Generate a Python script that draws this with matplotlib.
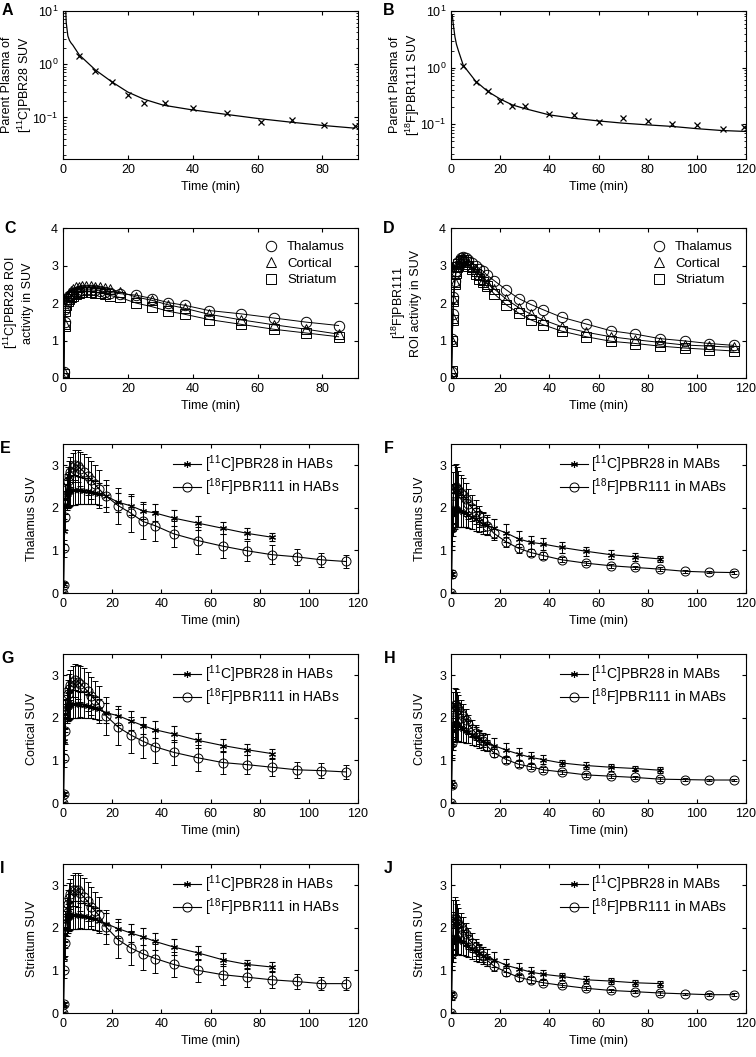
import numpy as np
import matplotlib
matplotlib.use('Agg')
from matplotlib import pyplot as plt
from matplotlib.lines import Line2D

plt.rcParams['font.family'] = ['Liberation Sans', 'DejaVu Sans']
plt.rcParams['font.size'] = 9
plt.rcParams['mathtext.fontset'] = 'custom'
plt.rcParams['mathtext.rm'] = 'Liberation Sans'
plt.rcParams['mathtext.it'] = 'Liberation Sans:italic'
plt.rcParams['mathtext.bf'] = 'Liberation Sans:bold'

# ---- A / B : parent plasma input ----
a_t = [5, 10, 15, 20, 25, 31.5, 40, 50.5, 61, 70.5, 80.5, 90]
a_y = [1.43, 0.75, 0.46, 0.27, 0.19, 0.19, 0.15, 0.12, 0.082, 0.088, 0.073, 0.069]
a_fit_t = [0.5, 0.8, 1.0, 1.5, 2.0, 2.5, 3, 5, 10, 15, 20, 25, 31, 39.5, 50.5, 60.5, 70, 80, 90]
a_fit_y = [25, 12, 6.0, 3.4, 2.8, 2.5, 2.3, 1.5, 0.78, 0.47, 0.30, 0.22, 0.17, 0.14, 0.114, 0.095, 0.082, 0.071, 0.063]

b_t = [5, 10, 15, 20, 25, 30, 40, 50, 60, 70, 80, 90, 100, 110.5, 119]
b_y = [1.08, 0.57, 0.39, 0.26, 0.21, 0.21, 0.153, 0.147, 0.112, 0.128, 0.116, 0.102, 0.098, 0.082, 0.089]
b_fit_t = [0.3, 0.5, 1.0, 1.6, 2.2, 3, 5, 10, 15, 20, 25, 30, 40, 50, 60, 70, 80, 90, 100, 110, 120]
b_fit_y = [8.0, 8.5, 5.5, 3.5, 2.6, 2.0, 1.1, 0.58, 0.38, 0.28, 0.22, 0.19, 0.147, 0.128, 0.115, 0.105, 0.098, 0.092, 0.084, 0.078, 0.075]

# ---- frame mid times ----
t28 = [0, 0.25, 0.5, 0.75, 1, 1.5, 2, 2.5, 3, 4, 5, 6, 7, 8.5, 10, 11.5, 13, 14.5,
       17.5, 22.5, 27.5, 32.5, 37.5, 45, 55, 65, 75, 85]
t111 = t28 + [95, 105, 115]

# ---- C : [11C]PBR28 ROI ----
c_thal = [0.0, 0.15, 1.5, 1.85, 2.0, 2.1, 2.18, 2.22, 2.25, 2.3, 2.32, 2.34, 2.35, 2.35, 2.34, 2.32, 2.3, 2.28,
          2.25, 2.21, 2.12, 2.01, 1.94, 1.80, 1.71, 1.60, 1.49, 1.40]
c_cort = [0.0, 0.15, 1.45, 1.9, 2.05, 2.18, 2.27, 2.33, 2.37, 2.42, 2.44, 2.45, 2.45, 2.45, 2.44, 2.42, 2.4, 2.37,
          2.3, 2.16, 2.07, 1.95, 1.86, 1.70, 1.55, 1.42, 1.30, 1.17]
c_stri = [0.0, 0.12, 1.4, 1.8, 1.95, 2.05, 2.12, 2.17, 2.2, 2.25, 2.28, 2.3, 2.3, 2.3, 2.28, 2.26, 2.24, 2.2,
          2.15, 2.0, 1.9, 1.78, 1.70, 1.56, 1.43, 1.30, 1.20, 1.10]

# ---- D : [18F]PBR111 ROI ----
d_thal = [0.0, 0.15, 1.05, 1.7, 2.15, 2.6, 2.85, 3.0, 3.1, 3.2, 3.22, 3.2, 3.15, 3.08, 3.0, 2.92, 2.85, 2.75,
          2.6, 2.35, 2.12, 1.96, 1.82, 1.62, 1.44, 1.26, 1.17, 1.05, 0.99, 0.92, 0.87]
d_cort = [0.0, 0.18, 1.0, 1.6, 2.1, 2.55, 2.85, 3.0, 3.1, 3.18, 3.2, 3.15, 3.05, 2.95, 2.85, 2.75, 2.62, 2.52,
          2.38, 2.1, 1.88, 1.70, 1.55, 1.37, 1.22, 1.10, 1.02, 0.95, 0.88, 0.85, 0.82]
d_stri = [0.0, 0.2, 1.0, 1.55, 2.05, 2.5, 2.8, 2.95, 3.05, 3.12, 3.15, 3.1, 3.0, 2.9, 2.78, 2.65, 2.55, 2.45,
          2.25, 1.95, 1.73, 1.55, 1.42, 1.25, 1.10, 0.98, 0.92, 0.85, 0.80, 0.76, 0.72]

# ---- E : thalamus HABs ----
e_28 = [0.0, 0.2, 1.45, 2.05, 2.2, 2.3, 2.35, 2.38, 2.4, 2.42, 2.42, 2.42, 2.41, 2.4, 2.39, 2.37, 2.35, 2.33,
        2.28, 2.13, 2.05, 1.93, 1.88, 1.76, 1.64, 1.52, 1.40, 1.31]
e_28_sd = [0, 0.05, 0.3, 0.35, 0.35, 0.35, 0.35, 0.35, 0.35, 0.35, 0.35, 0.33, 0.32, 0.3, 0.3, 0.28, 0.27, 0.26,
           0.25, 0.22, 0.22, 0.2, 0.2, 0.18, 0.16, 0.14, 0.13, 0.1]
e_111 = [0.0, 0.18, 1.05, 1.78, 2.2, 2.45, 2.62, 2.75, 2.85, 2.95, 3.0, 2.98, 2.92, 2.85, 2.75, 2.65, 2.55, 2.45,
         2.28, 2.05, 1.88, 1.68, 1.58, 1.39, 1.23, 1.10, 0.99, 0.90, 0.85, 0.78, 0.74]
e_111_sd = [0, 0.05, 0.2, 0.3, 0.35, 0.35, 0.35, 0.35, 0.35, 0.35, 0.35, 0.37, 0.4, 0.42, 0.45, 0.45, 0.45, 0.45,
            0.37, 0.42, 0.45, 0.4, 0.35, 0.3, 0.32, 0.28, 0.23, 0.22, 0.19, 0.17, 0.16]

# ---- F : thalamus MABs ----
f_28 = [0, 0.45, 1.5, 1.85, 1.95, 2.0, 2.0, 1.98, 1.95, 1.92, 1.9, 1.87, 1.83, 1.78, 1.73, 1.68, 1.63, 1.6,
        1.52, 1.41, 1.27, 1.19, 1.15, 1.07, 0.98, 0.9, 0.85, 0.8]
f_28_sd = [0, 0.1, 0.4, 0.5, 0.5, 0.5, 0.45, 0.42, 0.4, 0.38, 0.35, 0.33, 0.3, 0.28, 0.27, 0.25, 0.24, 0.23,
           0.22, 0.22, 0.18, 0.15, 0.14, 0.12, 0.1, 0.1, 0.1, 0.07]
f_111 = [0, 0.45, 1.52, 2.1, 2.35, 2.45, 2.48, 2.45, 2.42, 2.35, 2.3, 2.2, 2.1, 2.0, 1.9, 1.8, 1.68, 1.58,
         1.4, 1.2, 1.05, 0.95, 0.88, 0.78, 0.7, 0.64, 0.6, 0.56, 0.51, 0.49, 0.48]
f_111_sd = [0, 0.05, 0.3, 0.45, 0.5, 0.55, 0.55, 0.5, 0.45, 0.42, 0.4, 0.38, 0.35, 0.3, 0.28, 0.25, 0.22, 0.2,
            0.15, 0.12, 0.1, 0.09, 0.08, 0.06, 0.05, 0.05, 0.04, 0.04, 0.03, 0.03, 0.03]

# ---- G : cortical HABs ----
g_28 = [0, 0.22, 1.45, 2.0, 2.1, 2.2, 2.25, 2.28, 2.3, 2.32, 2.32, 2.32, 2.31, 2.3, 2.28, 2.26, 2.24, 2.2,
        2.12, 2.05, 1.93, 1.82, 1.72, 1.62, 1.47, 1.35, 1.25, 1.16]
g_28_sd = [0, 0.05, 0.3, 0.33, 0.33, 0.33, 0.33, 0.33, 0.33, 0.33, 0.33, 0.32, 0.3, 0.3, 0.28, 0.27, 0.26, 0.25,
           0.24, 0.22, 0.22, 0.21, 0.2, 0.18, 0.17, 0.15, 0.13, 0.11]
g_111 = [0, 0.22, 1.05, 1.68, 2.1, 2.35, 2.55, 2.68, 2.78, 2.85, 2.88, 2.85, 2.8, 2.72, 2.62, 2.52, 2.42, 2.32,
         2.05, 1.78, 1.6, 1.45, 1.32, 1.19, 1.06, 0.95, 0.9, 0.84, 0.78, 0.76, 0.73]
g_111_sd = [0, 0.05, 0.2, 0.3, 0.35, 0.35, 0.35, 0.35, 0.35, 0.36, 0.38, 0.4, 0.42, 0.45, 0.45, 0.45, 0.45, 0.43,
            0.45, 0.42, 0.42, 0.4, 0.38, 0.3, 0.3, 0.28, 0.23, 0.2, 0.19, 0.17, 0.17]

# ---- H : cortical MABs ----
h_28 = [0, 0.45, 1.4, 1.7, 1.8, 1.85, 1.85, 1.83, 1.8, 1.77, 1.74, 1.7, 1.66, 1.6, 1.56, 1.5, 1.45, 1.42,
        1.35, 1.24, 1.15, 1.07, 1.02, 0.94, 0.88, 0.84, 0.81, 0.77]
h_28_sd = [0, 0.1, 0.35, 0.45, 0.45, 0.42, 0.4, 0.38, 0.35, 0.33, 0.3, 0.28, 0.26, 0.24, 0.22, 0.2, 0.2, 0.2,
           0.18, 0.16, 0.14, 0.12, 0.1, 0.08, 0.08, 0.08, 0.07, 0.07]
h_111 = [0, 0.42, 1.42, 1.95, 2.2, 2.3, 2.3, 2.25, 2.2, 2.12, 2.05, 1.95, 1.85, 1.75, 1.65, 1.55, 1.45, 1.35,
         1.18, 1.02, 0.91, 0.85, 0.78, 0.73, 0.66, 0.63, 0.6, 0.56, 0.55, 0.54, 0.54]
h_111_sd = [0, 0.05, 0.3, 0.4, 0.4, 0.4, 0.38, 0.35, 0.33, 0.3, 0.28, 0.25, 0.22, 0.2, 0.18, 0.16, 0.14, 0.12,
            0.1, 0.08, 0.07, 0.06, 0.06, 0.05, 0.05, 0.04, 0.04, 0.04, 0.03, 0.03, 0.03]

# ---- I : striatum HABs ----
i_28 = [0, 0.2, 1.3, 1.85, 2.0, 2.15, 2.22, 2.26, 2.28, 2.3, 2.3, 2.3, 2.29, 2.28, 2.26, 2.24, 2.2, 2.17,
        2.1, 1.98, 1.88, 1.79, 1.68, 1.55, 1.41, 1.25, 1.14, 1.08]
i_28_sd = [0, 0.05, 0.3, 0.33, 0.33, 0.33, 0.33, 0.33, 0.33, 0.33, 0.33, 0.32, 0.3, 0.3, 0.28, 0.27, 0.26, 0.25,
           0.24, 0.22, 0.22, 0.2, 0.2, 0.18, 0.16, 0.15, 0.1, 0.12]
i_111 = [0, 0.22, 1.02, 1.65, 2.05, 2.35, 2.55, 2.7, 2.8, 2.88, 2.9, 2.88, 2.82, 2.72, 2.62, 2.5, 2.4, 2.3,
         2.02, 1.72, 1.53, 1.39, 1.28, 1.14, 1.0, 0.9, 0.84, 0.78, 0.74, 0.69, 0.69]
i_111_sd = [0, 0.05, 0.2, 0.3, 0.35, 0.35, 0.35, 0.35, 0.35, 0.36, 0.38, 0.4, 0.42, 0.45, 0.45, 0.45, 0.45, 0.43,
            0.4, 0.42, 0.4, 0.38, 0.35, 0.3, 0.28, 0.25, 0.22, 0.2, 0.18, 0.16, 0.16]

# ---- J : striatum MABs ----
j_28 = [0, 0.4, 1.35, 1.65, 1.75, 1.78, 1.78, 1.76, 1.73, 1.7, 1.66, 1.62, 1.57, 1.5, 1.45, 1.4, 1.35, 1.3,
        1.25, 1.12, 1.04, 0.96, 0.91, 0.86, 0.78, 0.75, 0.71, 0.69]
j_28_sd = [0, 0.1, 0.35, 0.45, 0.45, 0.42, 0.4, 0.38, 0.35, 0.33, 0.3, 0.28, 0.26, 0.24, 0.22, 0.2, 0.2, 0.2,
           0.18, 0.16, 0.14, 0.12, 0.1, 0.08, 0.08, 0.08, 0.07, 0.07]
j_111 = [0, 0.42, 1.4, 1.92, 2.15, 2.22, 2.2, 2.15, 2.1, 2.02, 1.95, 1.85, 1.75, 1.65, 1.55, 1.45, 1.35, 1.25,
         1.1, 0.96, 0.84, 0.77, 0.71, 0.65, 0.58, 0.53, 0.5, 0.47, 0.45, 0.43, 0.43]
j_111_sd = [0, 0.05, 0.3, 0.45, 0.5, 0.5, 0.45, 0.4, 0.36, 0.32, 0.3, 0.27, 0.24, 0.22, 0.2, 0.18, 0.16, 0.14,
            0.12, 0.09, 0.08, 0.07, 0.06, 0.05, 0.05, 0.04, 0.04, 0.04, 0.03, 0.03, 0.03]

C11 = '[$^{\\mathregular{11}}$C]PBR28'
F18 = '[$^{\\mathregular{18}}$F]PBR111'

H = 1057
W = 756


def style(ax):
    ax.tick_params(which='both', direction='in', top=True, right=True, labelsize=9)
    ax.tick_params(which='major', length=3)
    ax.tick_params(which='minor', length=1.8)
    for s in ax.spines.values():
        s.set_linewidth(0.8)


def label(txt, x_px, y_px):
    fig.text(x_px / W, 1 - y_px / H, txt, fontsize=11.5, fontweight='bold',
             ha='left', va='top')


fig = plt.figure(figsize=(7.56, 10.57), dpi=100)
lx, rx, w = 63 / W, 451 / W, 295 / W


def mkax(x, top, bot):
    return fig.add_axes([x, 1 - bot / H, w, (bot - top) / H])


# A
ax = mkax(lx, 11, 159)
ax.semilogy(a_fit_t, a_fit_y, 'k-', lw=0.9)
ax.semilogy(a_t, a_y, 'kx', ms=5, mew=0.9)
ax.set_xlim(0, 91)
ax.set_ylim(0.0166, 10)
ax.set_xticks([0, 20, 40, 60, 80])
ax.set_xlabel('Time (min)')
ax.set_ylabel('Parent Plasma of\n' + C11 + ' SUV')
ax.yaxis.set_label_coords(-0.1, 0.5)
style(ax)
label('A', 2, 3)

# B
ax = mkax(rx, 11, 159)
ax.semilogy(b_fit_t, b_fit_y, 'k-', lw=0.9)
ax.semilogy(b_t, b_y, 'kx', ms=5, mew=0.9)
ax.set_xlim(0, 120)
ax.set_ylim(0.0245, 10)
ax.set_xticks(range(0, 121, 20))
ax.set_xlabel('Time (min)')
ax.set_ylabel('Parent Plasma of\n' + F18 + ' SUV')
ax.yaxis.set_label_coords(-0.098, 0.5)
style(ax)
label('B', 383, 3)


def roi_panel(ax, t, thal, cort, stri, xmax, ylab):
    ax.plot(t, thal, 'k-', lw=0.7)
    ax.plot(t, cort, 'k-', lw=0.7)
    ax.plot(t, stri, 'k-', lw=0.7)
    ax.plot(t, thal, 'o', mfc='none', mec='k', ms=7.5, mew=0.7, label='Thalamus')
    ax.plot(t, cort, '^', mfc='none', mec='k', ms=7.5, mew=0.7, label='Cortical')
    ax.plot(t, stri, 's', mfc='none', mec='k', ms=6.5, mew=0.7, label='Striatum')
    ax.set_xlim(0, xmax)
    ax.set_ylim(0, 4)
    ax.set_yticks([0, 1, 2, 3, 4])
    ax.set_xlabel('Time (min)')
    ax.set_ylabel(ylab)
    ax.yaxis.set_label_coords(-0.098, 0.5)
    ax.legend(loc='upper right', frameon=False, handlelength=1.2, handletextpad=0.6,
              labelspacing=0.32, fontsize=9.5, borderaxespad=0.6)
    style(ax)


ax = mkax(lx, 228, 378)
roi_panel(ax, t28, c_thal, c_cort, c_stri, 91, C11 + ' ROI\nactivity in SUV')
ax.set_xticks([0, 20, 40, 60, 80])
label('C', 4, 221)

ax = mkax(rx, 228, 378)
roi_panel(ax, t111, d_thal, d_cort, d_stri, 120, F18 + '\nROI activity in SUV')
ax.set_xticks(range(0, 121, 20))
label('D', 383, 221)


def cmp_panel(ax, y28, s28, y111, s111, grp, ylab):
    ax.errorbar(t28, y28, yerr=s28, fmt='-', color='k', lw=0.8, elinewidth=0.7,
                capsize=2, capthick=0.7, marker=(6, 2, 0), ms=5, mew=0.8)
    ax.errorbar(t111, y111, yerr=s111, fmt='-', color='k', lw=0.8, elinewidth=0.7,
                capsize=2, capthick=0.7, marker='o', mfc='none', mec='k', ms=6.5, mew=0.7)
    ax.set_xlim(0, 120)
    ax.set_ylim(0, 3.5)
    ax.set_yticks([0, 1, 2, 3])
    ax.set_xticks(range(0, 121, 20))
    ax.set_xlabel('Time (min)')
    ax.set_ylabel(ylab)
    ax.yaxis.set_label_coords(-0.085, 0.5)
    handles = [Line2D([], [], color='k', lw=0.8, marker=(6, 2, 0), ms=5, mew=0.8),
               Line2D([], [], color='k', lw=0.8, marker='o', mfc='none', mec='k', ms=6.5, mew=0.7)]
    ax.legend(handles, [C11 + ' in ' + grp, F18 + ' in ' + grp],
              loc='upper right', frameon=False, handlelength=2.0, handletextpad=0.25,
              labelspacing=0.1, fontsize=10, borderaxespad=0,
              bbox_to_anchor=(0.955, 0.975))
    style(ax)


panels = [
    (lx, 444, 593, e_28, e_28_sd, e_111, e_111_sd, 'HABs', 'Thalamus SUV', 'E', 0),
    (rx, 444, 593, f_28, f_28_sd, f_111, f_111_sd, 'MABs', 'Thalamus SUV', 'F', 384),
    (lx, 654, 803, g_28, g_28_sd, g_111, g_111_sd, 'HABs', 'Cortical SUV', 'G', 1),
    (rx, 654, 803, h_28, h_28_sd, h_111, h_111_sd, 'MABs', 'Cortical SUV', 'H', 384),
    (lx, 864, 1013, i_28, i_28_sd, i_111, i_111_sd, 'HABs', 'Striatum SUV', 'I', 0),
    (rx, 864, 1013, j_28, j_28_sd, j_111, j_111_sd, 'MABs', 'Striatum SUV', 'J', 384),
]
for x, top, bot, y28, s28, y111, s111, grp, ylab, lab, lxp in panels:
    ax = mkax(x, top, bot)
    cmp_panel(ax, y28, s28, y111, s111, grp, ylab)
    label(lab, lxp, top - 3)

fig.savefig('out.png', dpi=100)
